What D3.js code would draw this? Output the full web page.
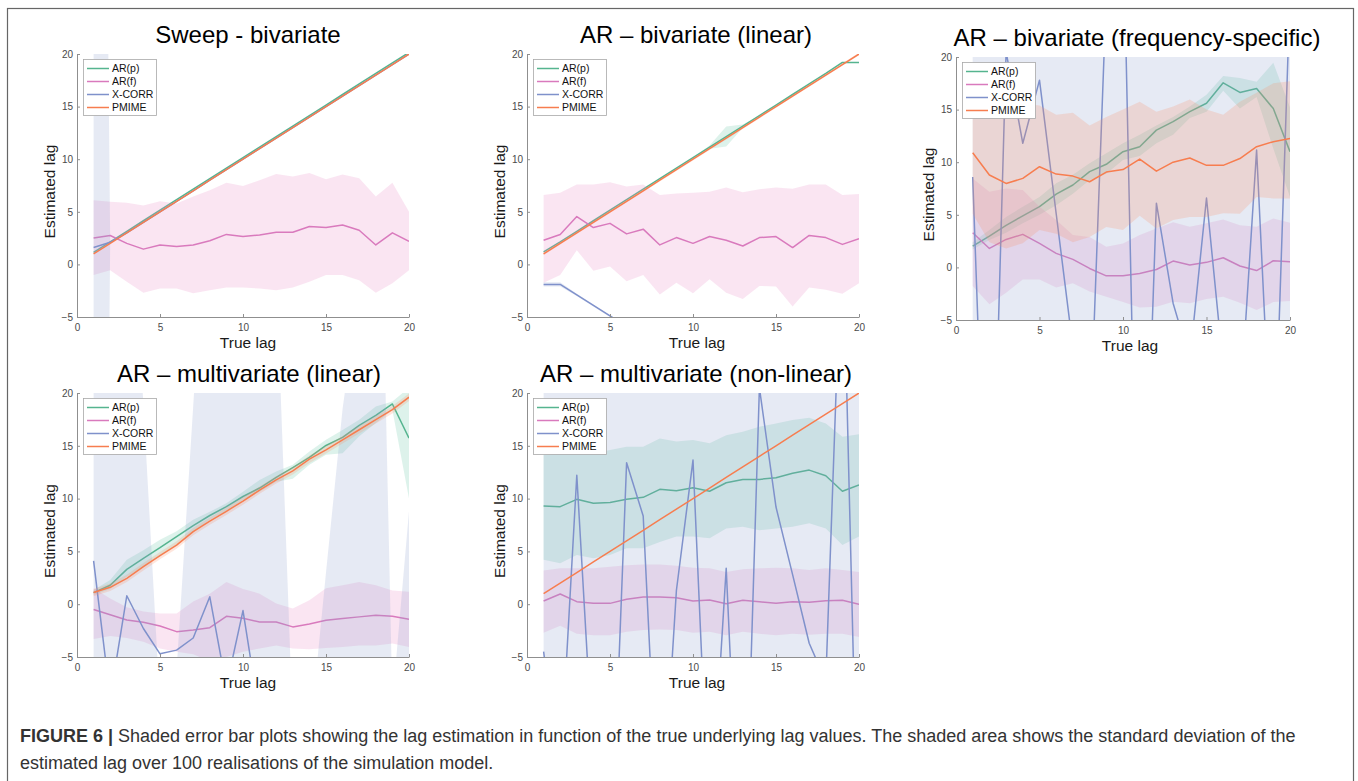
<!DOCTYPE html>
<html>
<head>
<meta charset="utf-8">
<script src="https://cdn.jsdelivr.net/npm/d3@7"></script>
<style>
  body { margin: 0; background: #fff; }
  svg { display: block; font-family: "Liberation Sans", Arial, Helvetica, sans-serif; }
</style>
</head>
<body>
<div id="chart"></div>
<script>
// ---- data ----
const trueLag = [1, 2, 3, 4, 5, 6, 7, 8, 9, 10, 11, 12, 13, 14, 15, 16, 17, 18, 19, 20];
const xTicks = [0, 5, 10, 15, 20];
const yTicks = [-5, 0, 5, 10, 15, 20];
const seriesNames = ['AR(p)', 'AR(f)', 'X-CORR', 'PMIME'];
const panelTitles = [
  'Sweep - bivariate',
  'AR \u2013 bivariate (linear)',
  'AR \u2013 bivariate (frequency-specific)',
  'AR \u2013 multivariate (linear)',
  'AR \u2013 multivariate (non-linear)'
];

// Sweep - bivariate
const sweepArp = [1.15, 2.15, 3.15, 4.15, 5.15, 6.15, 7.15, 8.15, 9.15, 10.15, 11.15, 12.15, 13.15, 14.15, 15.15, 16.15, 17.15, 18.15, 19.15, 20.15];
const sweepArf = [2.5, 2.75, 2.0, 1.45, 1.85, 1.7, 1.85, 2.25, 2.85, 2.65, 2.8, 3.05, 3.05, 3.6, 3.5, 3.75, 3.25, 1.85, 3.0, 2.2];
const sweepArfHi = [6.1, 5.95, 5.85, 5.6, 6.0, 5.8, 6.45, 7.05, 7.75, 7.45, 8.0, 8.6, 8.35, 8.7, 8.1, 8.55, 8.2, 6.45, 7.75, 5.0];
const sweepArfLo = [-1.0, -0.55, -1.65, -2.7, -2.3, -2.3, -2.75, -2.45, -2.2, -2.2, -2.3, -2.45, -2.2, -1.65, -1.0, -1.0, -1.5, -2.7, -1.8, -0.55];
const sweepXcorr = [1.6, 2.1, 3, 4, 5, 6, 7, 8, 9, 10, 11, 12, 13, 14, 15, 16, 17, 18, 19, 20];
const sweepXcorrHi = [161.6, 2.1, 3, 4, 5, 6, 7, 8, 9, 10, 11, 12, 13, 14, 15, 16, 17, 18, 19, 20];
const sweepXcorrLo = [-158.4, 2.1, 3, 4, 5, 6, 7, 8, 9, 10, 11, 12, 13, 14, 15, 16, 17, 18, 19, 20];
const sweepPmime = [1, 2, 3, 4, 5, 6, 7, 8, 9, 10, 11, 12, 13, 14, 15, 16, 17, 18, 19, 20];

// AR - bivariate (linear)
const linArp = [1.2, 2.15, 3.15, 4.15, 5.15, 6.15, 7.15, 8.15, 9.15, 10.15, 11.15, 12.15, 13.15, 14.15, 15.15, 16.15, 17.15, 18.15, 19.2, 19.2];
const linArpHi = [1.2, 2.15, 3.15, 4.15, 5.15, 6.15, 7.15, 8.15, 9.15, 10.15, 11.3, 13.1, 13.3, 14.15, 15.15, 16.15, 17.15, 18.15, 19.2, 19.2];
const linArpLo = [1.2, 2.15, 3.15, 4.15, 5.15, 6.15, 7.15, 8.15, 9.15, 10.15, 11.0, 11.2, 13.0, 14.15, 15.15, 16.15, 17.15, 18.15, 19.2, 19.2];
const linArf = [2.3, 2.85, 4.55, 3.5, 3.9, 2.9, 3.35, 1.85, 2.55, 2.0, 2.65, 2.3, 1.75, 2.55, 2.65, 1.6, 2.75, 2.55, 1.9, 2.45];
const linArfHi = [6.6, 6.8, 7.6, 7.6, 7.8, 7.4, 7.6, 6.6, 6.75, 6.8, 6.9, 7.3, 6.85, 7.15, 7.3, 7.2, 7.6, 7.6, 6.6, 6.7];
const linArfLo = [-1.75, -1.0, 1.35, -0.6, -0.2, -1.6, -1.0, -2.85, -1.75, -2.75, -1.4, -2.7, -3.3, -2.05, -2.1, -4.0, -2.2, -2.4, -2.8, -1.8];
const linXcorr = [-1.9, -1.9, -2.9, -3.9, -4.9, -5.9, -6.9, -7.9, -8.9, -9.9, -10.9, -11.9, -12.9, -13.9, -14.9, -15.9, -16.9, -17.9, -18.9, -19.9];
const linXcorrHi = [-1.7, -1.7, -2.8, -3.8, -4.8, -5.8, -6.8, -7.8, -8.8, -9.8, -10.8, -11.8, -12.8, -13.8, -14.8, -15.8, -16.8, -17.8, -18.8, -19.8];
const linXcorrLo = [-2.1, -2.1, -3.0, -4.0, -5.0, -6.0, -7.0, -8.0, -9.0, -10.0, -11.0, -12.0, -13.0, -14.0, -15.0, -16.0, -17.0, -18.0, -19.0, -20.0];
const linPmime = [1, 2, 3, 4, 5, 6, 7, 8, 9, 10, 11, 12, 13, 14, 15, 16, 17, 18, 19, 20];
const linPmimeHi = [1.12, 2.12, 3.12, 4.12, 5.12, 6.12, 7.12, 8.12, 9.12, 10.12, 11.12, 12.12, 13.12, 14.12, 15.12, 16.12, 17.12, 18.12, 19.12, 20.12];
const linPmimeLo = [0.88, 1.88, 2.88, 3.88, 4.88, 5.88, 6.88, 7.88, 8.88, 9.88, 10.88, 11.88, 12.88, 13.88, 14.88, 15.88, 16.88, 17.88, 18.88, 19.88];

// AR - bivariate (frequency-specific)
const freqArp = [2.03, 2.98, 4.0, 4.9, 5.77, 6.97, 7.83, 9.1, 9.8, 11.0, 11.47, 13.05, 13.85, 14.8, 15.6, 17.55, 16.63, 17.0, 15.1, 11.0];
const freqArpHi = [2.4, 3.55, 4.8, 5.77, 6.7, 8.0, 8.8, 9.9, 10.85, 11.8, 12.6, 13.5, 14.3, 15.3, 16.4, 18.2, 18.0, 17.65, 19.45, 15.2];
const freqArpLo = [1.7, 2.6, 3.3, 4.2, 5.0, 5.9, 7.0, 8.3, 8.9, 10.2, 10.6, 11.8, 12.6, 14.2, 14.8, 16.8, 15.1, 16.2, 11.3, 6.7];
const freqArf = [3.3, 1.8, 2.66, 3.14, 2.28, 1.33, 0.76, -0.1, -0.8, -0.8, -0.57, -0.2, 0.6, 0.22, 0.48, 0.92, 0.13, -0.3, 0.63, 0.54];
const freqArfHi = [8.46, 7.2, 7.5, 7.35, 5.77, 4.5, 3.07, 2.9, 1.96, 2.28, 3.07, 3.7, 4.3, 3.87, 4.2, 4.56, 4.0, 3.87, 4.65, 4.25];
const freqArfLo = [-1.77, -3.5, -2.4, -1.14, -1.14, -1.9, -1.5, -2.3, -2.8, -3.3, -3.8, -3.74, -3.26, -3.4, -3.0, -2.8, -3.35, -4.05, -3.3, -3.2];
const freqXcorr = [8.6, -36, 20.5, 11.8, 17.8, 5.1, -7.6, -17, 26, 34, -40, 6.1, -3.4, -8.8, 6.6, -9.5, -13.7, 11.15, -22, 26];
const freqXcorrHi = [55, 40, 60, 52, 58, 47, 41, 35, 63, 80, 30, 48, 44, 39, 50, 37, 33, 52, 30, 62];
const freqXcorrLo = [-37.8, -112, -19, -28.4, -22.4, -36.8, -56.2, -69, -11, -12, -110, -35.8, -50.8, -56.6, -36.8, -56, -60.4, -29.7, -74, -10];
const freqPmime = [10.9, 8.78, 7.98, 8.46, 9.57, 8.87, 8.68, 8.14, 9.06, 9.3, 10.3, 9.15, 10.0, 10.4, 9.7, 9.7, 10.35, 11.47, 11.95, 12.26];
const freqPmimeHi = [15.4, 15.3, 15.4, 15.6, 15.4, 14.5, 14.7, 13.5, 14.3, 15.0, 15.75, 14.8, 15.3, 15.95, 15.0, 14.5, 15.75, 16.6, 17.5, 17.7];
const freqPmimeLo = [5.1, 2.4, 1.8, 2.3, 3.55, 3.2, 2.4, 2.9, 3.85, 3.55, 4.9, 3.7, 4.5, 4.8, 4.8, 5.15, 5.1, 6.7, 6.55, 6.55];

// AR - multivariate (linear)
const mlinArp = [1.1, 1.8, 3.3, 4.35, 5.35, 6.4, 7.44, 8.4, 9.24, 10.2, 11.0, 12.0, 12.94, 13.9, 15.03, 15.8, 16.93, 17.88, 18.96, 15.73];
const mlinArpHi = [1.35, 2.3, 4.2, 5.1, 6.1, 6.9, 8.0, 8.75, 9.55, 10.65, 11.77, 12.56, 13.2, 14.46, 15.57, 16.5, 17.47, 18.73, 19.2, 20.5];
const mlinArpLo = [0.87, 1.45, 2.6, 3.55, 4.55, 5.6, 6.8, 8.0, 8.8, 9.86, 10.66, 11.6, 11.87, 13.2, 14.15, 14.3, 15.9, 17.15, 18.4, 10.0];
const mlinArf = [-0.5, -1.0, -1.5, -1.7, -2.06, -2.6, -2.44, -2.22, -1.15, -1.34, -1.68, -1.68, -2.15, -1.87, -1.52, -1.36, -1.2, -1.04, -1.14, -1.42];
const mlinArfHi = [1.5, 0.55, -0.3, -0.7, -0.87, -0.87, 0.25, 1.0, 2.1, 1.45, 1.0, 0.06, -0.4, 0.38, 1.5, 1.8, 2.1, 1.8, 1.3, 1.17];
const mlinArfLo = [-3.3, -3.0, -3.2, -3.55, -4.2, -4.5, -4.75, -5.4, -5.0, -4.5, -4.2, -3.9, -4.2, -4.27, -4.15, -4.05, -3.9, -3.9, -3.73, -4.05];
const mlinXcorr = [4.1, -8.9, 0.8, -2.3, -4.7, -4.35, -3.2, 0.7, -7.8, -0.6, -10.6, -12.4, -9.1, -13.5, -11.2, -8.7, -14.1, -10.3, -12.8, -9.6];
const mlinXcorrHi = [48, 40, 46, 18.9, -9.5, -6.25, 18.75, 44, 52, 47, 55, 31.6, -11.5, -13, 3, 18.5, 30, 62, -9.3, 8.8];
const mlinXcorrLo = [-40, -58, -44, -24, -30, -36, -25, -43, -68, -48, -76, -56, -29, -32, -25, -36, -58, -83, -16, -28];
const mlinPmime = [1.1, 1.6, 2.45, 3.55, 4.6, 5.6, 6.87, 7.87, 8.8, 9.77, 10.8, 11.77, 12.63, 13.73, 14.62, 15.57, 16.52, 17.47, 18.42, 19.6];
const mlinPmimeHi = [1.45, 1.95, 2.8, 3.9, 4.95, 5.95, 7.22, 8.22, 9.15, 10.12, 11.15, 12.12, 12.98, 14.08, 14.97, 15.92, 16.87, 17.82, 18.77, 19.95];
const mlinPmimeLo = [0.75, 1.25, 2.1, 3.2, 4.25, 5.25, 6.52, 7.52, 8.45, 9.42, 10.45, 11.42, 12.28, 13.38, 14.27, 15.22, 16.17, 17.12, 18.07, 19.25];

// AR - multivariate (non-linear)
const nlArp = [9.3, 9.24, 9.93, 9.55, 9.64, 9.93, 10.12, 10.88, 10.75, 11.03, 10.7, 11.5, 11.8, 11.82, 11.98, 12.4, 12.7, 12.17, 10.7, 11.29];
const nlArpHi = [14.13, 14.29, 14.45, 14.29, 14.6, 14.9, 14.9, 15.7, 15.4, 15.55, 15.24, 16.0, 16.34, 16.8, 17.12, 17.44, 17.66, 17.12, 15.86, 16.1];
const nlArpLo = [4.2, 3.87, 4.66, 4.35, 4.66, 5.3, 5.3, 5.9, 6.4, 6.4, 6.24, 7.18, 7.34, 7.0, 7.18, 7.34, 7.66, 7.18, 5.6, 6.4];
const nlArf = [0.3, 0.97, 0.24, 0.08, 0.08, 0.46, 0.68, 0.68, 0.62, 0.3, 0.4, 0.05, 0.37, 0.24, 0.08, 0.24, 0.18, 0.33, 0.37, -0.01];
const nlArfHi = [3.2, 3.4, 3.4, 3.4, 3.55, 3.7, 3.75, 3.75, 3.65, 3.45, 3.4, 3.05, 3.3, 3.4, 3.45, 3.4, 3.25, 3.4, 3.25, 3.05];
const nlArfLo = [-2.7, -2.05, -2.8, -2.95, -2.95, -2.6, -2.45, -2.4, -2.45, -2.7, -2.6, -2.95, -2.6, -2.8, -2.95, -2.8, -2.9, -2.8, -2.8, -3.1];
const nlXcorr = [-4.5, -16, 12.2, -15.1, -27.5, 13.4, 8.35, -24, 1.3, 13.65, -22.1, 3.4, -31, 20.5, 9.2, 2.8, -3.7, -7.3, 37, -27];
const nlXcorrHi = [45, 38, 58, 41, 30, 60, 52, 33, 46, 58, 35, 47, 27, 64, 51, 45, 40, 36, 80, 28];
const nlXcorrLo = [-54, -70, -34, -71, -85, -33, -35, -81, -43, -31, -79, -40, -89, -23, -33, -39, -47, -51, -12, -82];
const nlPmime = [1, 2, 3, 4, 5, 6, 7, 8, 9, 10, 11, 12, 13, 14, 15, 16, 17, 18, 19, 20];

// ---- styles / layout ----
const lineColors = ['#55b48f', '#d97abd', '#7f91cb', '#f77d4f'];
const bandColors = ['#66c2a5', '#e78ac3', '#8da0cb', '#fc8d62'];

const panels = [
  {
    box: {left: 77, right: 409, top: 54, bottom: 317, titleX: 248, labelX: 248},
    series: [
      {mean: sweepArp, hi: sweepArp, lo: sweepArp},
      {mean: sweepArf, hi: sweepArfHi, lo: sweepArfLo},
      {mean: sweepXcorr, hi: sweepXcorrHi, lo: sweepXcorrLo},
      {mean: sweepPmime, hi: sweepPmime, lo: sweepPmime}
    ]
  },
  {
    box: {left: 527, right: 859, top: 54, bottom: 317, titleX: 696, labelX: 697},
    series: [
      {mean: linArp, hi: linArpHi, lo: linArpLo},
      {mean: linArf, hi: linArfHi, lo: linArfLo},
      {mean: linXcorr, hi: linXcorrHi, lo: linXcorrLo},
      {mean: linPmime, hi: linPmimeHi, lo: linPmimeLo}
    ]
  },
  {
    box: {left: 956, right: 1290, top: 57, bottom: 320, titleX: 1137, labelX: 1130},
    series: [
      {mean: freqArp, hi: freqArpHi, lo: freqArpLo},
      {mean: freqArf, hi: freqArfHi, lo: freqArfLo},
      {mean: freqXcorr, hi: freqXcorrHi, lo: freqXcorrLo},
      {mean: freqPmime, hi: freqPmimeHi, lo: freqPmimeLo}
    ]
  },
  {
    box: {left: 77, right: 409, top: 393, bottom: 657, titleX: 249, labelX: 248},
    series: [
      {mean: mlinArp, hi: mlinArpHi, lo: mlinArpLo},
      {mean: mlinArf, hi: mlinArfHi, lo: mlinArfLo},
      {mean: mlinXcorr, hi: mlinXcorrHi, lo: mlinXcorrLo},
      {mean: mlinPmime, hi: mlinPmimeHi, lo: mlinPmimeLo}
    ]
  },
  {
    box: {left: 527, right: 859, top: 393, bottom: 657, titleX: 696, labelX: 697},
    series: [
      {mean: nlArp, hi: nlArpHi, lo: nlArpLo},
      {mean: nlArf, hi: nlArfHi, lo: nlArfLo},
      {mean: nlXcorr, hi: nlXcorrHi, lo: nlXcorrLo},
      {mean: nlPmime, hi: nlPmime, lo: nlPmime}
    ]
  }
];

const svg = d3.select('#chart')
  .append('svg')
  .attr('width', 1358)
  .attr('height', 781);

// figure frame
svg.append('rect')
  .attr('x', 7.5).attr('y', 8.5)
  .attr('width', 1346).attr('height', 800)
  .attr('fill', 'none')
  .attr('stroke', '#666')
  .attr('stroke-width', 1.2);

function drawPanel(panel, i) {
  const box = panel.box;
  const x = d3.scaleLinear().domain([0, 20]).range([box.left, box.right]);
  const y = d3.scaleLinear().domain([-5, 20]).range([box.bottom, box.top]);
  const g = svg.append('g');

  g.append('clipPath').attr('id', 'clip' + i)
    .append('rect')
    .attr('x', box.left).attr('y', box.top)
    .attr('width', box.right - box.left).attr('height', box.bottom - box.top);

  const plot = g.append('g').attr('clip-path', `url(#clip${i})`);

  const line = d3.line().x((d, j) => x(trueLag[j])).y(d => y(d));

  panel.series.forEach((s, k) => {
    const band = d3.area()
      .x((d, j) => x(trueLag[j]))
      .y0((d, j) => y(s.lo[j]))
      .y1((d, j) => y(s.hi[j]));
    plot.append('path')
      .datum(s.mean)
      .attr('d', band)
      .attr('fill', bandColors[k])
      .attr('fill-opacity', 0.22);
    plot.append('path')
      .datum(s.mean)
      .attr('d', line)
      .attr('fill', 'none')
      .attr('stroke', lineColors[k])
      .attr('stroke-width', 1.5)
      .attr('stroke-linejoin', 'round');
  });

  // axes, ticks pointing inward like matlab
  const xAxis = g.append('g')
    .attr('transform', `translate(0,${box.bottom})`)
    .call(d3.axisBottom(x).tickValues(xTicks).tickSize(-3).tickSizeOuter(0).tickPadding(7));
  const yAxis = g.append('g')
    .attr('transform', `translate(${box.left},0)`)
    .call(d3.axisLeft(y).tickValues(yTicks).tickSize(-3).tickSizeOuter(0).tickPadding(4));

  [xAxis, yAxis].forEach(a => {
    a.select('.domain').attr('stroke', '#8f8f8f');
    a.selectAll('.tick line').attr('stroke', '#8f8f8f');
    a.selectAll('.tick text')
      .attr('fill', '#4a4a4a')
      .style('font-size', '10px')
      .style('font-family', '"Liberation Sans", Arial, sans-serif');
  });

  g.append('text')
    .attr('x', box.titleX).attr('y', box.top - 11)
    .attr('text-anchor', 'middle')
    .style('font-size', '24px')
    .attr('fill', '#000')
    .text(panelTitles[i]);

  g.append('text')
    .attr('x', box.labelX).attr('y', box.bottom + 31)
    .attr('text-anchor', 'middle')
    .style('font-size', '15.5px')
    .attr('fill', '#1a1a1a')
    .text('True lag');

  g.append('text')
    .attr('transform', `translate(${box.left - 22},${(box.top + box.bottom) / 2 + 6}) rotate(-90)`)
    .attr('text-anchor', 'middle')
    .style('font-size', '15.5px')
    .attr('fill', '#1a1a1a')
    .text('Estimated lag');

  // legend
  const lg = g.append('g').attr('transform', `translate(${box.left + 6},${box.top + 5})`);
  lg.append('rect')
    .attr('x', 0.5).attr('y', 0.5)
    .attr('width', 73).attr('height', 56)
    .attr('fill', '#fff')
    .attr('stroke', '#a8a8a8')
    .attr('stroke-width', 0.8);
  seriesNames.forEach((name, k) => {
    const row = 9.5 + k * 13;
    lg.append('line')
      .attr('x1', 4).attr('x2', 26)
      .attr('y1', row).attr('y2', row)
      .attr('stroke', lineColors[k])
      .attr('stroke-width', 1.5);
    lg.append('text')
      .attr('x', 29).attr('y', row + 3.8)
      .style('font-size', '10.5px')
      .attr('fill', '#111')
      .text(name);
  });
}

panels.forEach(drawPanel);

// caption
const caption = svg.append('text')
  .attr('x', 20).attr('y', 742)
  .style('font-size', '18px')
  .attr('fill', '#333');
caption.append('tspan').style('font-weight', 'bold').text('FIGURE 6 |');
caption.append('tspan').text(' Shaded error bar plots showing the lag estimation in function of the true underlying lag values. The shaded area shows the standard deviation of the');

svg.append('text')
  .attr('x', 20).attr('y', 769)
  .style('font-size', '18px')
  .attr('fill', '#333')
  .text('estimated lag over 100 realisations of the simulation model.');
</script>
</body>
</html>
